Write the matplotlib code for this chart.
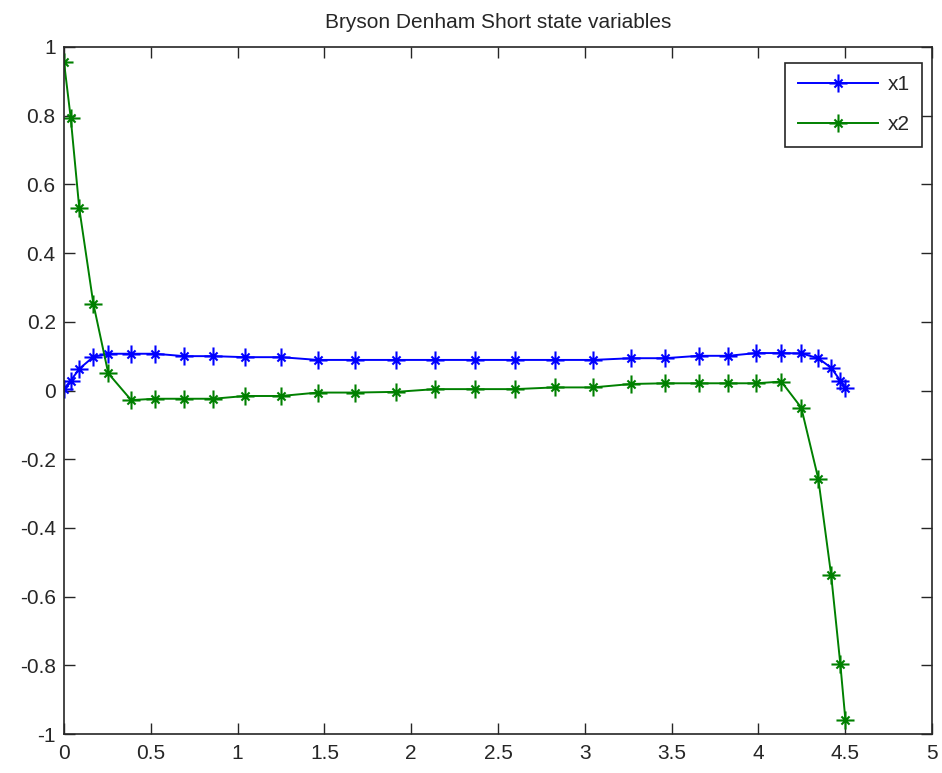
import matplotlib
matplotlib.use("Agg")
import matplotlib.pyplot as plt
from matplotlib.path import Path

# time nodes of the collocation grid
t = [0.000, 0.039, 0.088, 0.169, 0.255, 0.387, 0.525, 0.692, 0.859, 1.043,
     1.250, 1.461, 1.678, 1.912, 2.138, 2.368, 2.597, 2.827, 3.047, 3.268,
     3.461, 3.657, 3.826, 3.988, 4.132, 4.247, 4.345, 4.419, 4.472, 4.501]

# state x1
x1 = [0.005, 0.029, 0.063, 0.098, 0.107, 0.107, 0.107, 0.100, 0.100, 0.097,
      0.097, 0.089, 0.089, 0.089, 0.089, 0.089, 0.089, 0.089, 0.089, 0.094,
      0.094, 0.101, 0.101, 0.109, 0.109, 0.108, 0.094, 0.066, 0.029, 0.006]

# state x2
x2 = [0.956, 0.792, 0.530, 0.253, 0.050, -0.028, -0.024, -0.024, -0.024, -0.016,
      -0.016, -0.006, -0.006, -0.004, 0.004, 0.004, 0.004, 0.009, 0.009, 0.019,
      0.021, 0.021, 0.021, 0.021, 0.026, -0.050, -0.257, -0.537, -0.797, -0.958]

series_labels = ["x1", "x2"]
title = "Bryson Denham Short state variables"
xticks = [0, 0.5, 1, 1.5, 2, 2.5, 3, 3.5, 4, 4.5, 5]
xticklabels = ["0", "0.5", "1", "1.5", "2", "2.5", "3", "3.5", "4", "4.5", "5"]
yticks = [-1, -0.8, -0.6, -0.4, -0.2, 0, 0.2, 0.4, 0.6, 0.8, 1]
yticklabels = ["-1", "-0.8", "-0.6", "-0.4", "-0.2", "0", "0.2", "0.4", "0.6", "0.8", "1"]

plt.rcParams["font.family"] = ["Liberation Sans", "DejaVu Sans"]

# asterisk: long plus arms, short diagonal arms
d = 0.45
asterisk = Path(
    [(-1, 0), (1, 0), (0, -1), (0, 1),
     (-d, -d), (d, d), (-d, d), (d, -d)],
    [Path.MOVETO, Path.LINETO, Path.MOVETO, Path.LINETO,
     Path.MOVETO, Path.LINETO, Path.MOVETO, Path.LINETO])

fig = plt.figure(figsize=(9.42, 7.73), dpi=100)
ax = fig.add_axes([64 / 942, 1 - 734 / 773, (932 - 64) / 942, (734 - 47) / 773])

ax.plot(t, x1, color=(0, 0, 1), lw=1.4, marker=asterisk, ms=13, mew=1.5,
        label=series_labels[0])
ax.plot(t, x2, color=(0, 0.5, 0), lw=1.4, marker=asterisk, ms=13, mew=1.5,
        label=series_labels[1])

ax.set_xlim(0, 5)
ax.set_ylim(-1, 1)
ax.set_xticks(xticks)
ax.set_xticklabels(xticklabels)
ax.set_yticks(yticks)
ax.set_yticklabels(yticklabels)
ax.tick_params(direction="in", length=8, width=1.0, top=True, right=True,
               labelsize=15, colors="#262626", pad=6)
ax.tick_params(axis="x", pad=7)
for s in ax.spines.values():
    s.set_linewidth(1.2)
    s.set_color("#262626")

ax.set_title(title, fontsize=15, color="#262626", pad=14)

leg = ax.legend(loc="upper right", fontsize=15, frameon=True, fancybox=False,
                edgecolor="#262626", framealpha=1, borderpad=0.6,
                handlelength=3.85, handletextpad=0.45, labelspacing=1.0,
                borderaxespad=0, bbox_to_anchor=(0.9885, 0.977))
leg.get_frame().set_linewidth(1.2)
for txt in leg.get_texts():
    txt.set_color("#262626")

fig.savefig("out.png", dpi=100)
